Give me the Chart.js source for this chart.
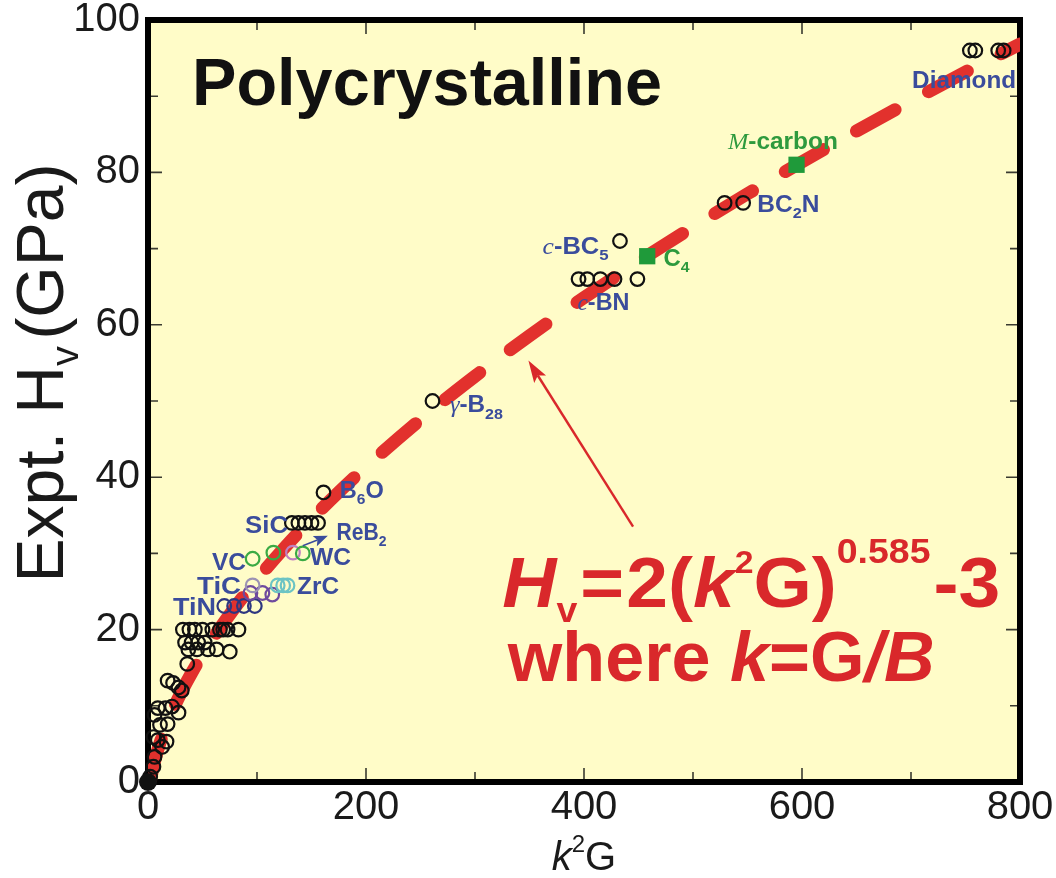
<!DOCTYPE html>
<html>
<head>
<meta charset="utf-8">
<title>Polycrystalline hardness vs k²G</title>
<script src="https://cdn.jsdelivr.net/npm/chart.js@4.4.1/dist/chart.umd.min.js"></script>
<style>
  html, body { margin: 0; padding: 0; background: #ffffff; }
  canvas { display: block; }
</style>
</head>
<body>
<canvas id="chart" width="1056" height="878"></canvas>
<script>
// ---- Data -------------------------------------------------------------
// Fitted model Hv = 2(k²G)^0.585 - 3, tabulated at these k²G values
const fitK2G = [2, 3, 5, 7, 10, 14, 20, 30, 40, 50, 60, 80, 100, 125, 150, 175, 200, 250, 300, 350, 400, 450, 500, 550, 600, 650, 700, 750, 800];
const fitHv  = [0.0, 0.80, 2.13, 3.24, 4.69, 6.37, 8.54, 11.63, 14.31, 16.72, 18.94, 22.96, 26.58, 30.71, 34.50, 38.04, 41.37, 47.57, 53.25, 58.56, 63.56, 68.30, 72.83, 77.19, 81.38, 85.43, 89.36, 93.17, 96.84];

// Measured polycrystalline hardness (open black circles)
const blackK2G = [754, 759, 780, 785, 529, 546, 433, 395, 403, 415, 428, 449, 261, 161,
                  132, 138, 144, 150, 156,
                  32, 38, 43, 50, 59, 66, 69, 73, 83,
                  34, 40, 46, 52, 37, 45, 55, 63, 75, 36,
                  18, 23, 28, 31, 9, 16, 22, 28, 6, 11, 18,
                  5, 9, 17, 13, 6, 5, 2];
const blackHv  = [96, 96, 96, 96, 76, 76, 71, 66, 66, 66, 66, 66, 50, 38,
                  34, 34, 34, 34, 34,
                  20, 20, 20, 20, 20, 20, 20, 20, 20,
                  18.3, 18.3, 18.3, 18.3, 17.4, 17.4, 17.4, 17.4, 17.1, 15.5,
                  13.3, 13.0, 12.4, 12.0, 9.7, 9.7, 9.9, 9.1, 8.8, 7.5, 7.6,
                  5.9, 5.5, 5.3, 4.6, 3.3, 2.0, 0.7];

// Transition-metal carbides / nitrides (coloured open circles)
const greenK2G  = [96, 115, 142];       const greenHv  = [29.3, 30.1, 30.0];
const pinkK2G   = [133];                const pinkHv   = [30.1];
const greyK2G   = [96];                 const greyHv   = [25.8];
const cyanK2G   = [119, 124, 128];      const cyanHv   = [25.8, 25.8, 25.8];
const purpleK2G = [94, 105, 114];       const purpleHv = [24.8, 24.8, 24.6];
const navyK2G   = [70, 79, 88, 98];     const navyHv   = [23.1, 23.1, 23.1, 23.1];

// Predicted superhard carbon phases (C4, M-carbon)
const carbonK2G = [458, 595];           const carbonHv = [69, 81];

// Cluster of soft materials at the origin
const originK2G = [0];                  const originHv = [0];

// Axis ticks
const xTickValues = [0, 200, 400, 600, 800];
const yTickValues = [0, 20, 40, 60, 80, 100];

// ---- Styling helpers ---------------------------------------------------
const SANS  = '"Liberation Sans", Arial, Helvetica, sans-serif';
const SERIF = '"Liberation Serif", "Times New Roman", serif';
const BLUE  = '#3a4c9c';
const GREEN = '#2e9a3e';
const RED   = '#d9282b';

const pts = (xs, ys) => xs.map((x, i) => ({ x: x, y: ys[i] }));

function circleSet(label, xs, ys, color) {
  return {
    label: label,
    data: pts(xs, ys),
    pointStyle: 'circle',
    pointRadius: 6.8,
    pointHoverRadius: 6.8,
    pointBorderWidth: 2.2,
    pointBackgroundColor: 'rgba(0,0,0,0)',
    pointBorderColor: color,
    showLine: false,
    clip: false
  };
}

// Rich text: a run of parts, each possibly italic / serif / sub / sup
function partFont(p, size, bold) {
  const s = (p.sub || p.sup) ? size * (p.scale || 0.66) : size;
  const b = (p.bold !== undefined ? p.bold : bold) ? 'bold ' : '';
  const it = p.it ? 'italic ' : '';
  return it + b + s.toFixed(1) + 'px ' + (p.serif ? SERIF : SANS);
}
function measureRich(ctx, parts, size, bold) {
  let w = 0;
  for (const p of parts) { ctx.font = partFont(p, size, bold); w += ctx.measureText(p.t).width + (p.gap || 0) * size; }
  return w;
}
function drawRich(ctx, parts, size, bold) {
  let cx = 0;
  for (const p of parts) {
    ctx.font = partFont(p, size, bold);
    const dy = p.sub ? size * (p.subDy || 0.28) : p.sup ? -size * (p.supDy || 0.42) : 0;
    ctx.fillText(p.t, cx, dy);
    cx += ctx.measureText(p.t).width + (p.gap || 0) * size;
  }
}
// Draw parts with left edge at (x, baseline), stretched horizontally to width w
function richAt(ctx, parts, x, baseline, size, bold, color, w) {
  const mw = measureRich(ctx, parts, size, bold);
  const sx = w ? Math.max(0.8, Math.min(1.4, w / mw)) : 1;
  ctx.save();
  ctx.fillStyle = color;
  ctx.textBaseline = 'alphabetic';
  ctx.textAlign = 'left';
  ctx.translate(x, baseline);
  ctx.scale(sx, 1);
  drawRich(ctx, parts, size, bold);
  ctx.restore();
}

// Material labels: data position of left edge / vertical centre
const materialLabels = [
  { parts: [{ t: 'Diamond' }], x: 701, y: 92.2, w: 104, color: BLUE },
  { parts: [{ t: 'M', it: true, serif: true, bold: false }, { t: '-carbon' }], x: 532, y: 84.1, w: 110, color: GREEN },
  { parts: [{ t: 'BC' }, { t: '2', sub: true }, { t: 'N' }], x: 559, y: 75.9, w: 62, color: BLUE },
  { parts: [{ t: 'c', it: true, serif: true, bold: false }, { t: '-BC' }, { t: '5', sub: true }], x: 362, y: 70.4, w: 66, color: BLUE },
  { parts: [{ t: 'C' }, { t: '4', sub: true }], x: 473, y: 68.8, w: 26, color: GREEN },
  { parts: [{ t: 'c', it: true, serif: true, bold: false }, { t: '-BN' }], x: 394, y: 63.0, w: 52, color: BLUE },
  { parts: [{ t: 'γ', it: true, serif: true, bold: false }, { t: '-B' }, { t: '28', sub: true }], x: 277, y: 49.6, w: 53, color: BLUE },
  { parts: [{ t: 'B' }, { t: '6', sub: true }, { t: 'O' }], x: 176, y: 38.4, w: 44, color: BLUE },
  { parts: [{ t: 'SiC' }], x: 89, y: 33.8, w: 43, color: BLUE },
  { parts: [{ t: 'ReB' }, { t: '2', sub: true }], x: 173, y: 32.9, w: 50, color: BLUE },
  { parts: [{ t: 'VC' }], x: 58.7, y: 28.9, w: 34, color: BLUE },
  { parts: [{ t: 'WC' }], x: 148.6, y: 29.6, w: 41, color: BLUE },
  { parts: [{ t: 'TiC' }], x: 45, y: 25.7, w: 44, color: BLUE },
  { parts: [{ t: 'ZrC' }], x: 136.7, y: 25.7, w: 42, color: BLUE },
  { parts: [{ t: 'TiN' }], x: 23, y: 23.0, w: 43, color: BLUE }
];

function arrow(ctx, x0, y0, x1, y1, color, lw, headLen, headW) {
  const a = Math.atan2(y1 - y0, x1 - x0);
  ctx.save();
  ctx.strokeStyle = color; ctx.fillStyle = color; ctx.lineWidth = lw;
  ctx.beginPath();
  ctx.moveTo(x0, y0);
  ctx.lineTo(x1 - Math.cos(a) * headLen * 0.8, y1 - Math.sin(a) * headLen * 0.8);
  ctx.stroke();
  ctx.translate(x1, y1); ctx.rotate(a);
  ctx.beginPath();
  ctx.moveTo(0, 0); ctx.lineTo(-headLen, -headW / 2); ctx.lineTo(-headLen * 0.8, 0); ctx.lineTo(-headLen, headW / 2);
  ctx.closePath(); ctx.fill();
  ctx.restore();
}

// ---- Plugins -----------------------------------------------------------
const framePlugin = {
  id: 'frame',
  beforeDraw(chart) {
    const { ctx, chartArea: ca } = chart;
    ctx.save();
    ctx.fillStyle = '#ffffff';
    ctx.fillRect(0, 0, chart.width, chart.height);
    ctx.fillStyle = '#fffcc8';
    ctx.fillRect(ca.left, ca.top, ca.right - ca.left, ca.bottom - ca.top);
    ctx.restore();
  },
  beforeDatasetsDraw(chart) {
    const { ctx, chartArea: ca, scales: { x: xs, y: ys } } = chart;
    ctx.save();
    ctx.strokeStyle = '#3a3a30';
    ctx.lineWidth = 1.6;
    ctx.beginPath();
    for (let v = 100; v < 800; v += 100) {
      const px = xs.getPixelForValue(v);
      const L = v % 200 === 0 ? 14 : 10;
      ctx.moveTo(px, ca.bottom); ctx.lineTo(px, ca.bottom - L);
      ctx.moveTo(px, ca.top); ctx.lineTo(px, ca.top + L);
    }
    for (let v = 10; v < 100; v += 10) {
      const py = ys.getPixelForValue(v);
      const L = v % 20 === 0 ? 14 : 10;
      ctx.moveTo(ca.left, py); ctx.lineTo(ca.left + L, py);
      ctx.moveTo(ca.right, py); ctx.lineTo(ca.right - L, py);
    }
    ctx.stroke();
    ctx.strokeStyle = '#000000';
    ctx.lineWidth = 6;
    ctx.strokeRect(ca.left, ca.top, ca.right - ca.left, ca.bottom - ca.top);
    ctx.restore();
  },
  afterDraw(chart) {
    const { ctx, scales: { x: xs, y: ys } } = chart;

    // Panel title
    richAt(ctx, [{ t: 'Polycrystalline' }], xs.getPixelForValue(40.4), ys.getPixelForValue(88.9), 66, true, '#111111', 470);

    // ReB2 pointer
    arrow(ctx, xs.getPixelForValue(142), ys.getPixelForValue(31.0), xs.getPixelForValue(165), ys.getPixelForValue(32.3), BLUE, 1.5, 14, 11);

    // Material labels
    const LS = 23;
    for (const L of materialLabels) {
      const px = xs.getPixelForValue(L.x);
      const py = ys.getPixelForValue(L.y) + 0.36 * LS;
      richAt(ctx, L.parts, px, py, LS, true, L.color, L.w);
    }

    // Model annotation and arrow
    arrow(ctx, xs.getPixelForValue(445), ys.getPixelForValue(33.5), xs.getPixelForValue(349), ys.getPixelForValue(55.3), RED, 2.4, 22, 14);
    const F = 70;
    richAt(ctx, [
      { t: 'H', it: true },
      { t: 'v', sub: true, scale: 0.5, subDy: 0.22, gap: 0.04 },
      { t: '=', gap: 0.03 },
      { t: '2(' },
      { t: 'k', it: true },
      { t: '2', sup: true, scale: 0.45, supDy: 0.48 },
      { t: 'G)' },
      { t: '0.585', sup: true, scale: 0.5, supDy: 0.62, gap: 0.04 },
      { t: '-3' }
    ], xs.getPixelForValue(325), ys.getPixelForValue(23.0), F, true, RED, 498);
    richAt(ctx, [
      { t: 'where ' },
      { t: 'k', it: true },
      { t: '=' },
      { t: 'G' },
      { t: '/', it: true },
      { t: 'B', it: true }
    ], xs.getPixelForValue(330), ys.getPixelForValue(13.2), F, true, RED, 427);

    // Axis titles
    ctx.save();
    ctx.translate(63, 373);
    ctx.rotate(-Math.PI / 2);
    const yParts = [{ t: 'Expt. H' }, { t: 'v', sub: true, scale: 0.6, subDy: 0.22, gap: 0.1 }, { t: '(GPa)' }];
    const ysz = 66;
    const yw = measureRich(ctx, yParts, ysz, false);
    ctx.fillStyle = '#1a1a1a';
    ctx.textBaseline = 'alphabetic';
    ctx.translate(-yw / 2, 0);
    drawRich(ctx, yParts, ysz, false);
    ctx.restore();

    const xParts = [{ t: 'k', it: true, serif: false }, { t: '2', sup: true, scale: 0.6, supDy: 0.45 }, { t: 'G' }];
    const xw = measureRich(ctx, xParts, 40, false);
    richAt(ctx, xParts, (chart.chartArea.left + chart.chartArea.right) / 2 - xw / 2, 870, 40, false, '#1a1a1a');
  }
};

// ---- Chart -------------------------------------------------------------
new Chart(document.getElementById('chart'), {
  type: 'scatter',
  data: {
    datasets: [
      {
        label: 'origin',
        data: pts(originK2G, originHv),
        pointRadius: 9, pointBorderWidth: 0,
        pointBackgroundColor: '#111111', showLine: false, clip: false
      },
      {
        label: 'C4, M-carbon',
        data: pts(carbonK2G, carbonHv),
        pointStyle: 'rect', pointRadius: 11.5, pointBorderWidth: 0,
        pointBackgroundColor: '#1f9a3a', showLine: false, clip: false
      },
      circleSet('Expt.', blackK2G, blackHv, '#111111'),
      circleSet('VC / WC', greenK2G, greenHv, '#3aaa44'),
      circleSet('WC', pinkK2G, pinkHv, '#c07fc0'),
      circleSet('TiC', greyK2G, greyHv, '#9c93b4'),
      circleSet('ZrC', cyanK2G, cyanHv, '#6cc4c4'),
      circleSet('TiC', purpleK2G, purpleHv, '#6e4a9e'),
      circleSet('TiN', navyK2G, navyHv, '#2d3680'),
      {
        label: 'fit',
        data: pts(fitK2G, fitHv),
        showLine: true,
        borderColor: '#e2312d',
        borderWidth: 13,
        borderDash: [44, 38],
        borderCapStyle: 'round',
        cubicInterpolationMode: 'monotone',
        pointRadius: 0,
        pointHoverRadius: 0
      }
    ]
  },
  options: {
    responsive: false,
    animation: false,
    events: [],
    layout: { padding: { top: 20, right: 36, left: 0, bottom: 0 } },
    plugins: { legend: { display: false }, tooltip: { enabled: false } },
    scales: {
      x: {
        type: 'linear', min: 0, max: 800,
        afterBuildTicks: s => { s.ticks = xTickValues.map(v => ({ value: v })); },
        afterFit: s => { s.height = 96; s.paddingLeft = 0; s.paddingRight = 0; },
        ticks: { font: { family: SANS, size: 40, lineHeight: 1 }, color: '#1a1a1a', padding: 6, maxRotation: 0, autoSkip: false },
        grid: { display: false, drawTicks: false },
        border: { display: false }
      },
      y: {
        type: 'linear', min: 0, max: 100,
        afterBuildTicks: s => { s.ticks = yTickValues.map(v => ({ value: v })); },
        afterFit: s => { s.width = 148; s.paddingTop = 0; s.paddingBottom = 0; },
        ticks: { font: { family: SANS, size: 40, lineHeight: 1 }, color: '#1a1a1a', padding: 8, autoSkip: false },
        grid: { display: false, drawTicks: false },
        border: { display: false }
      }
    }
  },
  plugins: [framePlugin]
});
</script>
</body>
</html>
